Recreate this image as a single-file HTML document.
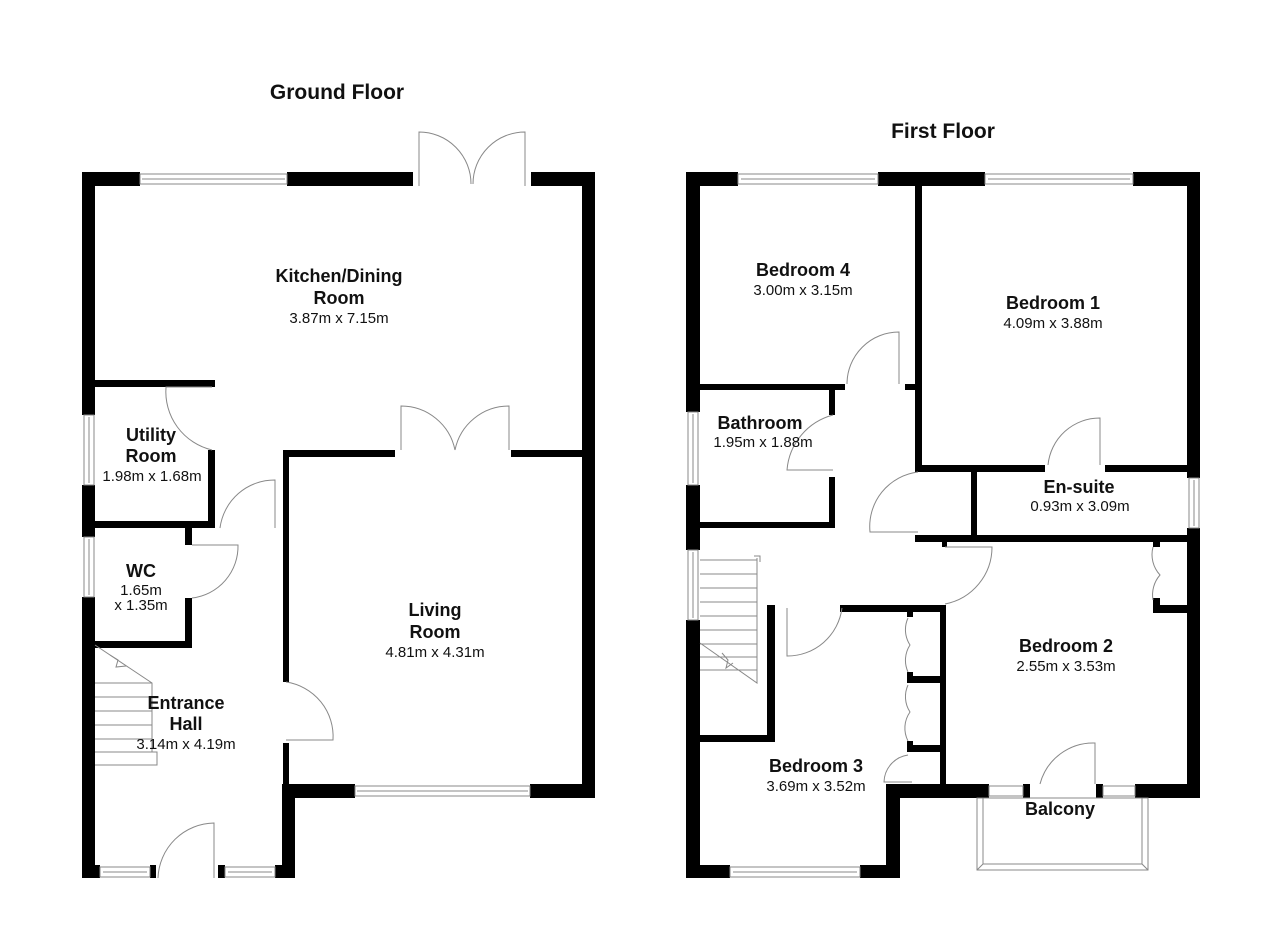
<!DOCTYPE html>
<html><head><meta charset="utf-8"><style>
html,body{margin:0;padding:0;background:#fff;}
svg{display:block}
text{font-family:"Liberation Sans",Arial,sans-serif;fill:#111;text-anchor:middle}
.b{font-weight:bold;font-size:18px}
.s{font-size:15px}
.t{font-weight:bold;font-size:21px}
</style></head><body>
<svg width="1280" height="931" viewBox="0 0 1280 931" xmlns="http://www.w3.org/2000/svg">
<rect width="1280" height="931" fill="#fff"/>
<g fill="#000">
<!-- GROUND FLOOR -->
<rect x="82" y="172" width="58" height="14"/>
<rect x="287" y="172" width="126" height="14"/>
<rect x="531" y="172" width="64" height="14"/>
<rect x="82" y="172" width="13" height="243"/>
<rect x="82" y="485" width="13" height="52"/>
<rect x="82" y="597" width="13" height="281"/>
<rect x="582" y="172" width="13" height="626"/>
<rect x="95" y="380" width="120" height="7"/>
<rect x="208" y="450" width="7" height="78"/>
<rect x="95" y="521" width="120" height="7"/>
<rect x="185" y="528" width="7" height="17"/>
<rect x="185" y="598" width="7" height="50"/>
<rect x="95" y="641" width="97" height="7"/>
<rect x="283" y="450" width="112" height="7"/>
<rect x="511" y="450" width="71" height="7"/>
<rect x="283" y="450" width="6" height="232"/>
<rect x="283" y="743" width="6" height="42"/>
<rect x="283" y="784" width="72" height="14"/>
<rect x="530" y="784" width="65" height="14"/>
<rect x="282" y="784" width="13" height="94"/>
<rect x="82" y="865" width="18" height="13"/>
<rect x="150" y="865" width="6" height="13"/>
<rect x="218" y="865" width="7" height="13"/>
<rect x="275" y="865" width="20" height="13"/>
<!-- FIRST FLOOR -->
<rect x="686" y="172" width="52" height="14"/>
<rect x="878" y="172" width="107" height="14"/>
<rect x="1133" y="172" width="67" height="14"/>
<rect x="686" y="172" width="14" height="240"/>
<rect x="686" y="485" width="14" height="65"/>
<rect x="686" y="620" width="14" height="258"/>
<rect x="1187" y="172" width="13" height="306"/>
<rect x="1187" y="528" width="13" height="270"/>
<rect x="915" y="186" width="7" height="286"/>
<rect x="700" y="384" width="145" height="6"/>
<rect x="905" y="384" width="15" height="6"/>
<rect x="829" y="390" width="6" height="25"/>
<rect x="829" y="477" width="6" height="51"/>
<rect x="700" y="522" width="135" height="6"/>
<rect x="915" y="465" width="130" height="7"/>
<rect x="1105" y="465" width="82" height="7"/>
<rect x="971" y="472" width="6" height="63"/>
<rect x="915" y="535" width="272" height="7"/>
<rect x="942" y="542" width="5" height="5"/>
<rect x="1153" y="542" width="7" height="5"/>
<rect x="1153" y="605" width="34" height="8"/>
<rect x="1153" y="598" width="7" height="10"/>
<rect x="840" y="605" width="106" height="7"/>
<rect x="907" y="612" width="6" height="5"/>
<rect x="940" y="605" width="6" height="180"/>
<rect x="767" y="605" width="8" height="135"/>
<rect x="700" y="735" width="75" height="7"/>
<rect x="907" y="676" width="39" height="7"/>
<rect x="907" y="672" width="6" height="11"/>
<rect x="907" y="745" width="39" height="7"/>
<rect x="907" y="741" width="6" height="11"/>
<rect x="886" y="784" width="103" height="14"/>
<rect x="1023" y="784" width="7" height="14"/>
<rect x="1096" y="784" width="7" height="14"/>
<rect x="1135" y="784" width="65" height="14"/>
<rect x="886" y="784" width="14" height="94"/>
<rect x="686" y="865" width="44" height="13"/>
<rect x="860" y="865" width="40" height="13"/>
</g>
<g fill="none" stroke="#888" stroke-width="1">
<!-- windows GF -->
<rect x="140" y="174" width="147" height="10"/><line x1="142" y1="179" x2="285" y2="179"/>
<rect x="355" y="786" width="175" height="10"/><line x1="357" y1="791" x2="528" y2="791"/>
<rect x="84" y="415" width="10" height="70"/><line x1="89" y1="417" x2="89" y2="483"/>
<rect x="84" y="537" width="10" height="60"/><line x1="89" y1="539" x2="89" y2="595"/>
<rect x="100" y="867" width="50" height="10"/><line x1="103" y1="872" x2="147" y2="872"/>
<rect x="225" y="867" width="50" height="10"/><line x1="228" y1="872" x2="272" y2="872"/>
<!-- doors GF -->
<path d="M419 186 V132 A52 52 0 0 1 471 184 M525 186 V132 A52 52 0 0 0 473 184"/>
<path d="M401 450 V406 A55 55 0 0 1 455 450 M509 450 V406 A55 55 0 0 0 455 450"/>
<path d="M212 387 H166 A60 60 0 0 0 212 450"/>
<path d="M275 528 V480 A55 55 0 0 0 220 528"/>
<path d="M192 545 H238 A52 52 0 0 1 192 598"/>
<path d="M286 682 A55 55 0 0 1 333 740 H286"/>
<path d="M214 878 V823 A57 57 0 0 0 158 878"/>
<!-- stairs GF -->
<path d="M95 645 L152 683 V752 M152 752 H157 V765 H95"/>
<path d="M95 683 H152 M95 697 H152 M95 711 H152 M95 725 H152 M95 739 H152 M95 752 H152"/>
<path d="M110 655 L118 660 L116 667 L126 666"/>
<!-- windows FF -->
<rect x="738" y="174" width="140" height="10"/><line x1="741" y1="179" x2="875" y2="179"/>
<rect x="985" y="174" width="148" height="10"/><line x1="988" y1="179" x2="1130" y2="179"/>
<rect x="688" y="412" width="10" height="73"/><line x1="693" y1="414" x2="693" y2="483"/>
<rect x="688" y="550" width="10" height="70"/><line x1="693" y1="552" x2="693" y2="618"/>
<rect x="1189" y="478" width="10" height="50"/><line x1="1194" y1="480" x2="1194" y2="526"/>
<rect x="730" y="867" width="130" height="10"/><line x1="733" y1="872" x2="857" y2="872"/>
<rect x="989" y="786" width="34" height="10"/>
<rect x="1103" y="786" width="32" height="10"/>
<!-- balcony -->
<rect x="977" y="798" width="171" height="72"/>
<path d="M983 798 V864 H1142 V798 M977 870 L983 864 M1148 870 L1142 864"/>
<!-- doors FF -->
<path d="M899 384 V332 A52 52 0 0 0 847 384"/>
<path d="M833 415 A62 62 0 0 0 787 470 H833"/>
<path d="M918 472 A55 55 0 0 0 870 532 H918"/>
<path d="M1100 465 V418 A52 52 0 0 0 1048 465"/>
<path d="M945 547 H992 A58 58 0 0 1 945 604"/>
<path d="M842 608 A55 55 0 0 1 787 656 V608"/>
<path d="M1153 547 A30 30 0 0 0 1160 575 A30 30 0 0 0 1153 600"/>
<path d="M908 618 A28 28 0 0 0 910 645 A28 28 0 0 0 908 672"/>
<path d="M908 685 A28 28 0 0 0 910 712 A28 28 0 0 0 908 741"/>
<path d="M908 755 A28 28 0 0 0 884 782 H912"/>
<path d="M1095 784 V743 A55 55 0 0 0 1040 784"/>
<!-- stairs FF -->
<path d="M700 560 H757 M700 574 H757 M700 588 H757 M700 602 H757 M700 616 H757 M700 630 H757 M700 644 H757 M700 657 H757 M700 670 H757"/>
<path d="M757 558 V683 L700 643 M754 556 H760 V562"/>
<path d="M722 653 L728 660 L726 668 L733 663"/>
</g>
<text class="t" x="337" y="99">Ground Floor</text>
<text class="t" x="943" y="138">First Floor</text>
<text class="b" x="339" y="282">Kitchen/Dining</text>
<text class="b" x="339" y="304">Room</text>
<text class="s" x="339" y="323">3.87m x 7.15m</text>
<text class="b" x="151" y="441">Utility</text>
<text class="b" x="151" y="462">Room</text>
<text class="s" x="152" y="481">1.98m x 1.68m</text>
<text class="b" x="141" y="577">WC</text>
<text class="s" x="141" y="595">1.65m</text>
<text class="s" x="141" y="610">x 1.35m</text>
<text class="b" x="435" y="616">Living</text>
<text class="b" x="435" y="638">Room</text>
<text class="s" x="435" y="657">4.81m x 4.31m</text>
<text class="b" x="186" y="709">Entrance</text>
<text class="b" x="186" y="730">Hall</text>
<text class="s" x="186" y="749">3.14m x 4.19m</text>
<text class="b" x="803" y="276">Bedroom 4</text>
<text class="s" x="803" y="295">3.00m x 3.15m</text>
<text class="b" x="1053" y="309">Bedroom 1</text>
<text class="s" x="1053" y="328">4.09m x 3.88m</text>
<text class="b" x="760" y="429">Bathroom</text>
<text class="s" x="763" y="447">1.95m x 1.88m</text>
<text class="b" x="1079" y="493">En-suite</text>
<text class="s" x="1080" y="511">0.93m x 3.09m</text>
<text class="b" x="1066" y="652">Bedroom 2</text>
<text class="s" x="1066" y="671">2.55m x 3.53m</text>
<text class="b" x="816" y="772">Bedroom 3</text>
<text class="s" x="816" y="791">3.69m x 3.52m</text>
<text class="b" x="1060" y="815">Balcony</text>
</svg>
</body></html>
